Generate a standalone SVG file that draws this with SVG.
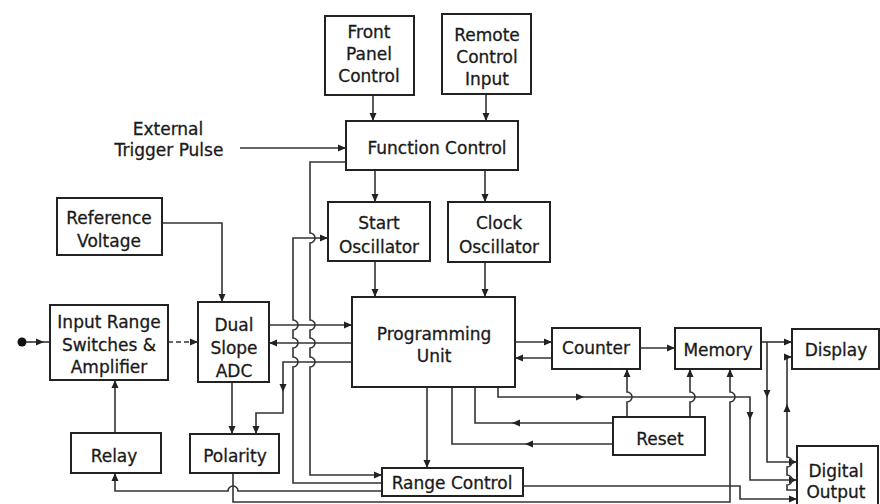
<svg xmlns="http://www.w3.org/2000/svg" xmlns:xlink="http://www.w3.org/1999/xlink" width="880" height="504" viewBox="0 0 880 504">
<style>
.box{fill:#fff;stroke:#222;stroke-width:2}
.t{font-family:"DejaVu Sans","Liberation Sans",sans-serif;font-size:17px;fill:#1a1a1a;stroke:#1a1a1a;stroke-width:0.3;text-anchor:middle}
.c{fill:none;stroke:#333;stroke-width:1.6}
.e{marker-end:url(#m)}
.d{stroke-dasharray:5,3}
.ah{fill:#222}
</style>
<defs>
<marker id="m" markerWidth="10" markerHeight="8" refX="8" refY="4" orient="auto" markerUnits="userSpaceOnUse"><path d="M0,0.5 L8,4 L0,7.5 Z" fill="#222"/></marker>
<path id="ah" d="M0,0 L-8,-3.5 L-8,3.5 Z"/>
</defs>
<rect width="880" height="504" fill="#fff"/>

<g id="connectors">
<path class="c e" d="M373,95 V121"/>
<path class="c e" d="M486,94 V121"/>
<path class="c e" d="M240,148 H346"/>
<path class="c e" d="M375,170 V202"/>
<path class="c e" d="M485,170 V202"/>
<path class="c e" d="M375,261 V297"/>
<path class="c e" d="M485,262 V297"/>
<path class="c e" d="M162,223 H222 V302"/>
<circle cx="22" cy="342" r="4.5" fill="#111"/>
<path class="c" d="M26,342 H50"/>
<use href="#ah" class="ah" transform="translate(44,342)"/>
<path class="c d e" d="M168,342 H198"/>
<path class="c e" d="M115,433 V380"/>
<path class="c e" d="M232,382 V434"/>
<path class="c e" d="M269,325 H352"/>
<path class="c e" d="M352,343 H269"/>
<path class="c e" d="M352,362 H283 V413 H256 V434"/>
<use href="#ah" class="ah" transform="translate(283,392) rotate(90)"/>
<path class="c e" d="M346,162 H310 V233 A5,5 0 0 1 310,243 V320 A5,5 0 0 1 310,330 V338 A5,5 0 0 1 310,348 V357 A5,5 0 0 1 310,367 V475 H382"/>
<path class="c e" d="M382,483 H293 V367 A5,5 0 0 0 293,357 V348 A5,5 0 0 0 293,338 V330 A5,5 0 0 0 293,320 V238 H328"/>
<path class="c e" d="M382,491 H238 A5,5 0 0 0 228,491 H115 V473"/>
<path class="c e" d="M233,473 V502 H730 V402 A5,5 0 0 0 730,392 V369"/>
<path class="c e" d="M523,486 H740 V499 H797"/>
<path class="c e" d="M515,342 H552"/>
<path class="c e" d="M552,358 H515"/>
<path class="c e" d="M640,348 H675"/>
<path class="c e" d="M761,342 H792"/>
<path class="c e" d="M767,342 V462 H797"/>
<use href="#ah" class="ah" transform="translate(767,398) rotate(90)"/>
<path class="c e" d="M498,387 V397 H750 V480 H797"/>
<use href="#ah" class="ah" transform="translate(584,397)"/>
<use href="#ah" class="ah" transform="translate(750,420) rotate(90)"/>
<path class="c e" d="M797,490 H787 V485 A5,5 0 0 0 787,475 V467 A5,5 0 0 0 787,457 V357 H792"/>
<use href="#ah" class="ah" transform="translate(787,404) rotate(-90)"/>
<path class="c e" d="M627,417 V402 A5,5 0 0 0 627,392 V369"/>
<path class="c e" d="M690,417 V402 A5,5 0 0 0 690,392 V369"/>
<path class="c" d="M613,423 H475 V387"/>
<use href="#ah" class="ah" transform="translate(512,423) rotate(180)"/>
<path class="c" d="M613,444 H452 V387"/>
<use href="#ah" class="ah" transform="translate(525,444) rotate(180)"/>
<path class="c e" d="M427,387 V468"/>
</g>

<g id="front-panel"><rect class="box" x="325" y="16" width="89" height="79"/>
<text class="t" x="369" y="38">Front</text><text class="t" x="369" y="60">Panel</text><text class="t" x="369" y="82">Control</text></g>
<g id="remote-control"><rect class="box" x="442" y="14" width="89" height="80"/>
<text class="t" x="487" y="41">Remote</text><text class="t" x="487" y="63">Control</text><text class="t" x="487" y="85">Input</text></g>
<g id="external-trigger"><text class="t" x="168" y="135">External</text><text class="t" x="169" y="156">Trigger Pulse</text></g>
<g id="function-control"><rect class="box" x="346" y="121" width="172" height="49"/>
<text class="t" x="437" y="154">Function Control</text></g>
<g id="start-oscillator"><rect class="box" x="328" y="202" width="102" height="59"/>
<text class="t" x="379" y="229">Start</text><text class="t" x="379" y="253">Oscillator</text></g>
<g id="clock-oscillator"><rect class="box" x="448" y="202" width="102" height="60"/>
<text class="t" x="499" y="229">Clock</text><text class="t" x="499" y="253">Oscillator</text></g>
<g id="reference-voltage"><rect class="box" x="57" y="198" width="105" height="57"/>
<text class="t" x="109" y="224">Reference</text><text class="t" x="109" y="247">Voltage</text></g>
<g id="input-range"><rect class="box" x="50" y="305" width="118" height="75"/>
<text class="t" x="109" y="328">Input Range</text><text class="t" x="109" y="351">Switches &amp;</text><text class="t" x="109" y="373">Amplifier</text></g>
<g id="dual-slope-adc"><rect class="box" x="198" y="302" width="71" height="80"/>
<text class="t" x="234" y="331">Dual</text><text class="t" x="234" y="354">Slope</text><text class="t" x="234" y="377">ADC</text></g>
<g id="programming-unit"><rect class="box" x="352" y="297" width="163" height="90"/>
<text class="t" x="434" y="340">Programming</text><text class="t" x="434" y="362">Unit</text></g>
<g id="relay"><rect class="box" x="71" y="433" width="90" height="40"/>
<text class="t" x="114" y="462">Relay</text></g>
<g id="polarity"><rect class="box" x="190" y="434" width="89" height="39"/>
<text class="t" x="235" y="462">Polarity</text></g>
<g id="range-control"><rect class="box" x="382" y="468" width="141" height="28"/>
<text class="t" x="452" y="489">Range Control</text></g>
<g id="counter"><rect class="box" x="552" y="328" width="88" height="41"/>
<text class="t" x="596" y="354">Counter</text></g>
<g id="memory"><rect class="box" x="675" y="328" width="86" height="41"/>
<text class="t" x="718" y="356">Memory</text></g>
<g id="display"><rect class="box" x="792" y="329" width="87" height="40"/>
<text class="t" x="836" y="356">Display</text></g>
<g id="reset"><rect class="box" x="613" y="417" width="92" height="38"/>
<text class="t" x="660" y="445">Reset</text></g>
<g id="digital-output"><rect class="box" x="797" y="446" width="81" height="66"/>
<text class="t" x="836" y="477">Digital</text><text class="t" x="836" y="498">Output</text></g>
</svg>
